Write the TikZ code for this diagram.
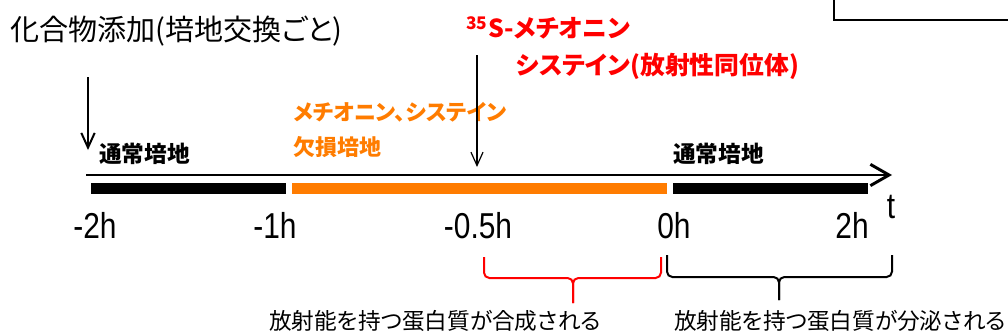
\documentclass[tikz,border=0pt]{standalone}
\usepackage{fontspec}
\setmainfont[RawFeature=+palt]{Noto Sans CJK JP}
\newfontfamily\tickfont[FakeStretch=0.83]{Liberation Sans}
\usepackage{tikz}
\usetikzlibrary{arrows.meta, positioning}
\definecolor{dropout}{RGB}{255,124,0}
\definecolor{isotope}{RGB}{255,0,0}

\begin{document}
\begin{tikzpicture}[
    x=0.75pt, y=-0.75pt,
    node distance=2pt,
    heading/.style={font=\fontsize{21.8}{26}\selectfont, inner sep=0pt, anchor=west},
    medium/.style={font=\fontsize{17}{20}\selectfont\bfseries, inner sep=0pt, anchor=west},
    lack/.style={font=\fontsize{16.5}{26}\selectfont\bfseries, text=dropout, inner sep=0pt, anchor=west, align=left},
    label35/.style={font=\fontsize{18.6}{22}\selectfont\bfseries, text=isotope, inner sep=0pt, anchor=west},
    tick/.style={font=\tickfont\fontsize{27}{30}\selectfont, inner sep=0pt, anchor=base},
    result/.style={font=\fontsize{17}{20}\selectfont, inner sep=0pt},
    bar/.style={fill=black},
    brace/.style={line width=1.5pt, rounded corners=4pt}
]
    \useasboundingbox (0,0) rectangle (1008,336);

    % box cut off at the top right
    \draw[line width=1.5pt] (834,-10) rectangle (1030,20);

    \node[heading] (addition) at (10,31) {化合物添加(培地交換ごと)};
    \node[label35] (hot1) at (466,28) {\textsuperscript{35}S-メチオニン};
    \node[label35] (hot2) at (516,66) {システイン(放射性同位体)};
    \node[lack] (lackmedium) at (293,130) {メチオニン、システイン\\欠損培地};
    \node[medium] (normal1) at (99,154) {通常培地};
    \node[medium] (normal2) at (673,154) {通常培地};

    % time axis
    \coordinate (tstart) at (86,175);
    \coordinate (tend) at (892,175);
    \draw[line width=2.2pt, -{Straight Barb[length=14pt, width=16pt]}] (tstart) -- (tend);
    \node[tick] (tlabel) at (891,218) {t};

    \fill[bar] (91,183) rectangle (286,194);
    \fill[bar, fill=dropout] (292,183) rectangle (667,194);
    \fill[bar] (673,183) rectangle (868,194);

    \foreach \x/\lab/\nm in {95/-2h/m2, 275/-1h/m1, 478/-0.5h/m05, 674/0h/z, 852/2h/p2}
        \node[tick] (t\nm) at (\x,238) {\lab};

    % additions
    \coordinate (add1top) at (88,77);
    \coordinate (add1bot) at (88,150);
    \coordinate (add2top) at (477,55);
    \coordinate (add2bot) at (477,167);
    \draw[line width=1.5pt, -{Straight Barb[length=11pt, width=10pt]}] (add1top) -- (add1bot);
    \draw[line width=0.9pt, -{Straight Barb[length=10pt, width=9pt]}] (add2top) -- (add2bot);

    % braces
    \coordinate (synl) at (484,257);
    \coordinate (synr) at (661,257);
    \coordinate (synmid) at (573,278);
    \coordinate (syntip) at (573,303);
    \draw[brace, isotope] (synl) |- (synmid) -- (syntip);
    \draw[brace, isotope] (synr) |- (synmid) -- (syntip);

    \coordinate (secl) at (667,255);
    \coordinate (secr) at (892,255);
    \coordinate (secmid) at (779,277);
    \coordinate (sectip) at (779,300);
    \draw[brace] (secl) |- (secmid) -- (sectip);
    \draw[brace] (secr) |- (secmid) -- (sectip);

    \node[result] (synthesis) at (435,321) {放射能を持つ蛋白質が合成される};
    \node[result] (secretion) at (840,321) {放射能を持つ蛋白質が分泌される};
\end{tikzpicture}
\end{document}
